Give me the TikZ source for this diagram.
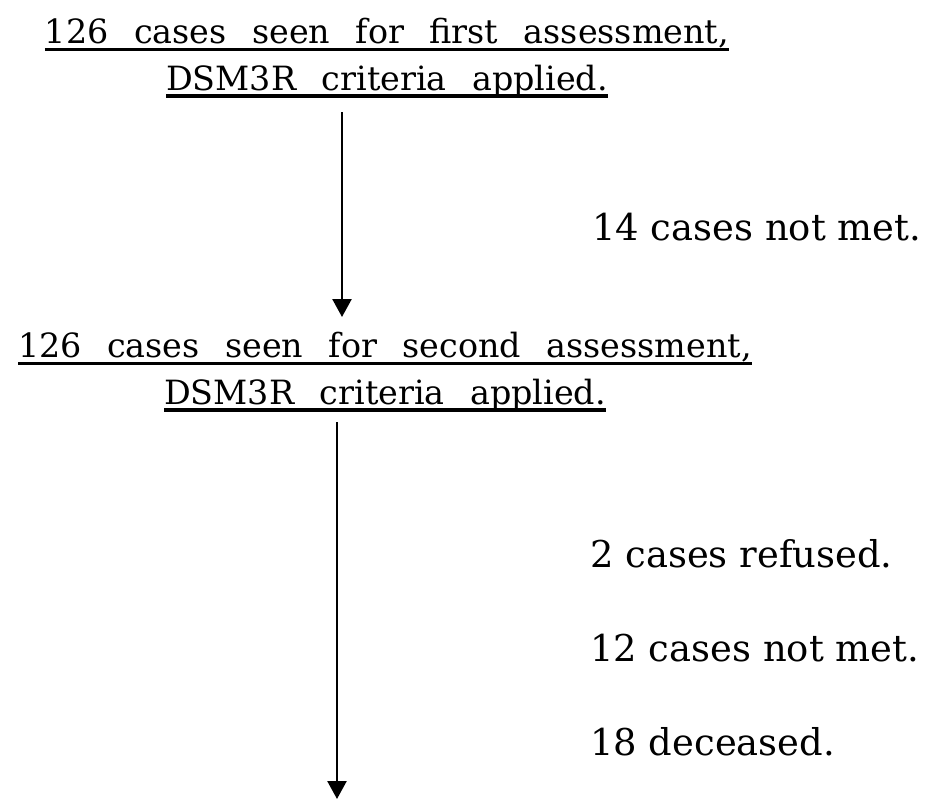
\documentclass[tikz,border=0pt]{standalone}
\usepackage{fontspec}
\setmainfont{DejaVu Serif}
\newfontfamily\headfont[WordSpace=2.4]{DejaVu Serif}
\usetikzlibrary{arrows.meta,positioning,calc}
% heading lines are underlined with a heavy rule
\newcommand{\ulined}[1]{\setbox0\hbox{#1}\rlap{\copy0}\rule[-4.2pt]{\wd0}{2pt}}
\tikzset{
  heading/.style={align=center,inner sep=0pt,font=\headfont\fontsize{19}{26.6}\selectfont},
  outcome/.style={anchor=base west,inner sep=0pt,font=\fontsize{21}{25}\selectfont},
  flow/.style={-{Triangle[length=3.6mm,width=3.8mm]},line width=1.4pt},
}

\begin{document}
\begin{tikzpicture}[x=0.02cm,y=-0.02cm]
  \useasboundingbox (0,0) rectangle (929,801);
  \node[heading,anchor=north](first) at (387,18){\ulined{126 cases seen for first assessment,}\\\ulined{DSM3R criteria applied.}};
  \node[heading,anchor=north](second) at (385,332){\ulined{126 cases seen for second assessment,}\\\ulined{DSM3R criteria applied.}};
  \node[outcome](notmet1) at (592,240){14 cases not met.};
  \node[outcome](refused) at (590,567){2 cases refused.};
  \node[outcome](notmet2) at (590,661){12 cases not met.};
  \node[outcome](deceased) at (590,755){18 deceased.};
  \coordinate (stop) at (337,799);
  \draw[flow] ($(first.south)+(-45,14)$)--($(second.north)+(-43,-15)$);
  \draw[flow] ($(second.south -| stop)+(0,10)$)--(stop);
\end{tikzpicture}
\end{document}
